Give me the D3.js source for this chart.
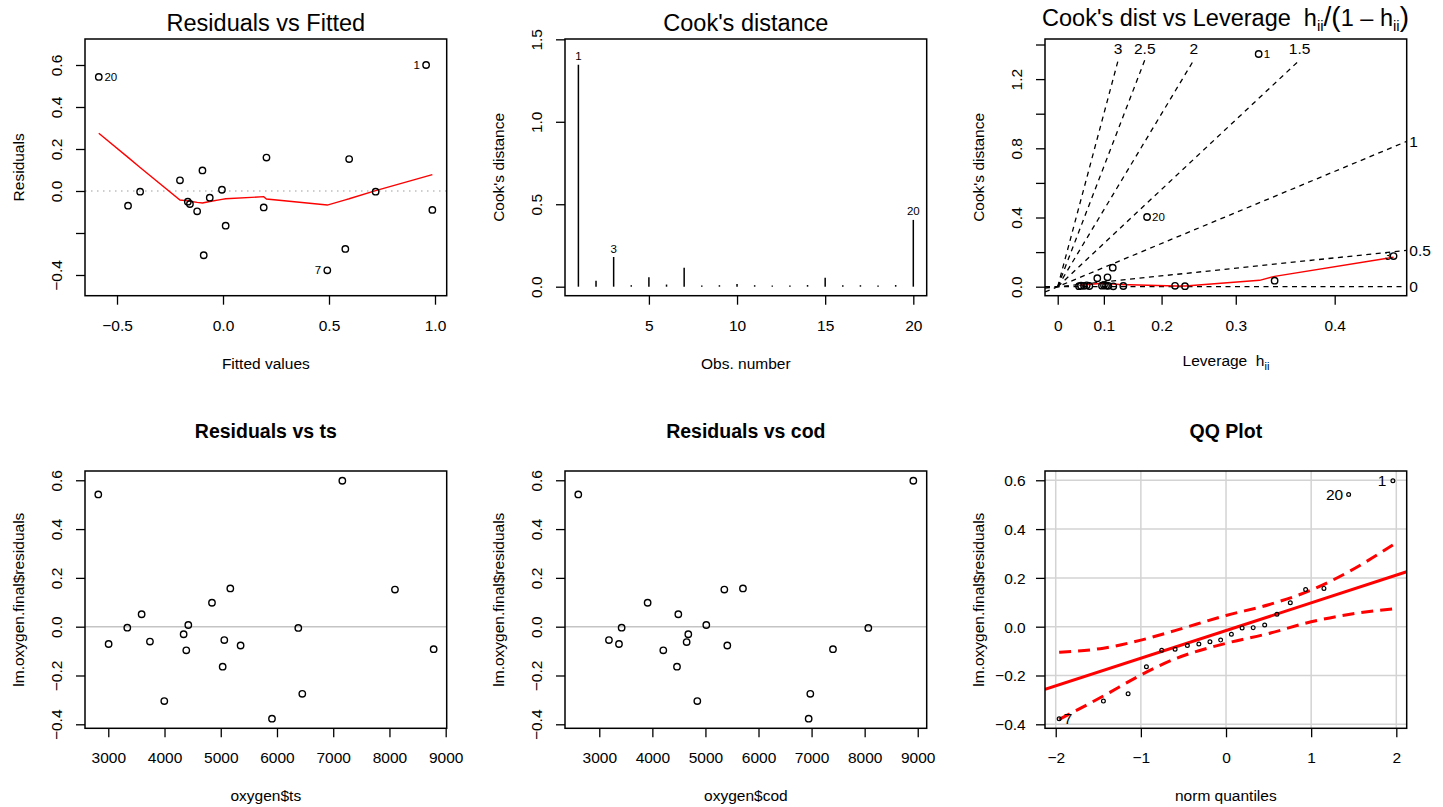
<!DOCTYPE html>
<html><head><meta charset="utf-8">
<script src="https://cdn.jsdelivr.net/npm/d3@7"></script>
<style>
body{margin:0;background:#fff;}
svg text{font-family:"Liberation Sans",Arial,Helvetica,sans-serif;fill:#000;}
</style></head><body>
<script>
// ---------------- DATA ----------------
// Panel 1: Residuals vs Fitted
const p1Fitted = [-0.586,-0.448,-0.391,-0.203,-0.166,-0.156,-0.122,-0.097,-0.091,-0.0625,-0.005,0.0125,0.192,0.205,0.492,0.577,0.595,0.720,0.958,0.9875];
const p1Resid  = [0.543,-0.070,-0.003,0.051,-0.051,-0.062,-0.097,0.098,-0.306,-0.032,0.006,-0.165,-0.078,0.159,-0.378,-0.276,0.152,-0.003,0.600,-0.090];
const p1Labels = ["20","","","","","","","","","","","","","","7","","","","1",""];
const p1SmoothX = [-0.586,-0.448,-0.391,-0.203,-0.166,-0.156,-0.122,-0.097,-0.0625,-0.005,0.0125,0.192,0.205,0.492,0.577,0.595,0.720,0.9875];
const p1SmoothY = [0.275,0.160,0.112,-0.043,-0.047,-0.049,-0.054,-0.057,-0.050,-0.040,-0.037,-0.027,-0.038,-0.067,-0.042,-0.037,0.002,0.078];
const p1XTicks = [-0.5,0,0.5,1.0];
const p1XTickLabels = ["−0.5","0.0","0.5","1.0"];
const p1YTicks = [-0.4,-0.2,0,0.2,0.4,0.6];
const p1YTickLabels = ["−0.4","","0.0","0.2","0.4","0.6"];

// Panel 2: Cook's distance
const cookObs = [1,2,3,4,5,6,7,8,9,10,11,12,13,14,15,16,17,18,19,20];
const cookVal = [1.346,0.036,0.180,0.009,0.057,0.013,0.115,0.008,0.009,0.016,0.009,0.007,0.007,0.010,0.055,0.009,0.009,0.007,0.010,0.405];
const cookLabels = ["1","","3","","","","","","","","","","","","","","","","","20"];
const p2XTicks = [5,10,15,20];
const p2XTickLabels = ["5","10","15","20"];
const p2YTicks = [0,0.5,1.0,1.5];
const p2YTickLabels = ["0.0","0.5","1.0","1.5"];

// Panel 3: Cook's dist vs Leverage
const levH    = [0.326,0.343,0.447,0.087,0.117,0.107,0.177,0.0488,0.0531,0.0595,0.0652,0.0707,0.0963,0.1002,0.1041,0.1086,0.118,0.1364,0.2202,0.2345];
const levCook = [1.345,0.035,0.177,0.049,0.110,0.054,0.403,0.003,0.006,0.005,0.008,0.004,0.006,0.009,0.006,0.005,0.002,0.004,0.005,0.003];
const levLabels = ["1","","3","","","","20","","","","","","","","","","","","",""];
const levSmoothH = [0.049,0.099,0.130,0.222,0.235,0.327,0.343,0.447];
const levSmoothC = [0.008,0.020,0.013,0.004,0.004,0.037,0.060,0.170];
const contourLevels = [0,0.5,1,1.5,2,2.5,3];
const p3XTicks = [0,0.1,0.2,0.3,0.4];
const p3XTickLabels = ["0","0.1","0.2","0.3","0.4"];
const p3YTicks = [0,0.2,0.4,0.6,0.8,1.0,1.2,1.4];
const p3YTickLabels = ["0.0","","0.4","","0.8","","1.2",""];

// Panel 4: Residuals vs ts
const tsVals  = [2822,3006,3338,3593,3741,3996,4340,4387,4423,4844,5034,5063,5170,5353,5911,6379,6450,7162,8098,8786];
const tsResid = [0.542,-0.071,-0.004,0.051,-0.061,-0.305,-0.031,-0.097,0.007,0.098,-0.164,-0.055,0.157,-0.077,-0.377,-0.005,-0.275,0.598,0.152,-0.092];
// Panel 5: Residuals vs cod
const codVals  = [2604,3182,3371,3421,3911,4206,4464,4489,4646,4677,4847,5016,5356,5412,5707,6945,6976,7403,8069,8917];
const codResid = [0.542,-0.055,-0.071,-0.004,0.098,-0.097,-0.164,0.051,-0.063,-0.031,-0.305,0.007,0.152,-0.077,0.157,-0.377,-0.275,-0.092,-0.005,0.598];
const resXTicks = [3000,4000,5000,6000,7000,8000,9000];
const resXTickLabels = ["3000","4000","5000","6000","7000","8000","9000"];
const resYTicks = [-0.4,-0.2,0,0.2,0.4,0.6];
const resYTickLabels = ["−0.4","−0.2","0.0","0.2","0.4","0.6"];

// Panel 6: QQ plot
const qqTheo  = [-1.960,-1.440,-1.150,-0.935,-0.755,-0.598,-0.454,-0.319,-0.189,-0.063,0.063,0.189,0.319,0.454,0.598,0.755,0.935,1.150,1.440,1.960];
const qqResid = [-0.377,-0.305,-0.275,-0.164,-0.097,-0.092,-0.077,-0.071,-0.062,-0.055,-0.031,-0.005,-0.004,0.007,0.051,0.098,0.152,0.157,0.542,0.598];
const qqLabels = ["7","","","","","","","","","","","","","","","","","","20","1"];
const qqLineX = [-2.126,2.122];
const qqLineY = [-0.257,0.225];
const envX     = [-1.96,-1.44,-1.0,-0.6,0,0.5,1.0,1.44,1.96];
const envUpper = [-0.105,-0.088,-0.055,-0.016,0.046,0.090,0.150,0.225,0.335];
const envLower = [-0.380,-0.284,-0.198,-0.132,-0.068,-0.028,0.020,0.050,0.073];
const qqXTicks = [-2,-1,0,1,2];
const qqXTickLabels = ["−2","−1","0","1","2"];

// ---------------- DRAWING ----------------
const FS = 15.5;
const svg = d3.select("body").append("svg").attr("width",1443).attr("height",807);
let clipN = 0;
function panel(box, xd, yd) {
  const x = d3.scaleLinear().domain(xd).range([box.l, box.r]);
  const y = d3.scaleLinear().domain(yd).range([box.b, box.t]);
  const g = svg.append("g");
  const id = "clip" + (clipN++);
  svg.append("clipPath").attr("id", id).append("rect")
    .attr("x", box.l).attr("y", box.t).attr("width", box.r - box.l).attr("height", box.b - box.t);
  const inner = g.append("g").attr("clip-path", `url(#${id})`);
  return {x, y, g, inner, box};
}
function drawBox(P) {
  P.g.append("rect").attr("x", P.box.l).attr("y", P.box.t)
    .attr("width", P.box.r - P.box.l).attr("height", P.box.b - P.box.t)
    .attr("fill", "none").attr("stroke", "#000").attr("stroke-width", 1.5);
}
function xAxis(P, scale, ticks, labels, dy) {
  const a = P.g.append("g").attr("transform", `translate(0,${P.box.b})`)
    .call(d3.axisBottom(scale).tickValues(ticks).tickSize(9).tickFormat((d, i) => labels[i]));
  a.attr("font-size", null).attr("font-family", null);
  a.select(".domain").remove();
  a.selectAll("line").attr("stroke", "#000").attr("stroke-width", 1.3);
  a.selectAll("text").attr("y", dy).attr("dy", null).attr("dominant-baseline", "central")
    .attr("font-size", FS).attr("fill", "#000");
}
function yAxis(P, ticks, labels, rotated) {
  const a = P.g.append("g").attr("transform", `translate(${P.box.l},0)`)
    .call(d3.axisLeft(P.y).tickValues(ticks).tickSize(9).tickFormat((d, i) => labels[i]));
  a.attr("font-size", null).attr("font-family", null);
  a.select(".domain").remove();
  a.selectAll("line").attr("stroke", "#000").attr("stroke-width", 1.3);
  const t = a.selectAll("text").attr("dy", null).attr("font-size", FS).attr("fill", "#000")
    .attr("dominant-baseline", "central");
  if (rotated) t.attr("x", 0).attr("y", -28.3).attr("transform", "rotate(-90)").attr("text-anchor", "middle");
  else t.attr("x", -19.3).attr("text-anchor", "end");
}
function titles(P, main, mainY, mainSize, bold, xlab, xlabY, ylab, ylabX) {
  const cx = (P.box.l + P.box.r) / 2, cy = (P.box.t + P.box.b) / 2;
  if (main) P.g.append("text").attr("x", cx).attr("y", mainY).attr("text-anchor", "middle")
    .attr("font-size", mainSize).attr("font-weight", bold ? "bold" : "normal").text(main);
  if (xlab) P.g.append("text").attr("x", cx).attr("y", xlabY).attr("text-anchor", "middle")
    .attr("dominant-baseline", "central").attr("font-size", FS).text(xlab);
  if (ylab) P.g.append("text").attr("transform", `translate(${ylabX},${cy}) rotate(-90)`)
    .attr("text-anchor", "middle").attr("dominant-baseline", "central").attr("font-size", FS).text(ylab);
}
function circles(P, xs, ys, r, sw) {
  P.g.append("g").selectAll("circle").data(xs).join("circle")
    .attr("cx", d => P.x(d)).attr("cy", (d, i) => P.y(ys[i])).attr("r", r)
    .attr("fill", "none").attr("stroke", "#000").attr("stroke-width", sw);
}

// ===== Panel 1 =====
{
  const P = panel({l:85, r:446.7, t:39, b:295.7}, [-0.651, 1.0552], [-0.4986, 0.7238]);
  P.inner.append("line").attr("x1", P.box.l).attr("x2", P.box.r).attr("y1", P.y(0)).attr("y2", P.y(0))
    .attr("stroke", "#bebebe").attr("stroke-width", 1.3).attr("stroke-dasharray", "1.5,4.5");
  const line = d3.line().x(d => P.x(d[0])).y(d => P.y(d[1]));
  P.inner.append("path").attr("d", line(p1SmoothX.map((v, i) => [v, p1SmoothY[i]])))
    .attr("fill", "none").attr("stroke", "#ff0000").attr("stroke-width", 1.4);
  circles(P, p1Fitted, p1Resid, 3.2, 1.4);
  p1Labels.forEach((lab, i) => {
    if (!lab) return;
    const right = lab === "20";
    P.g.append("text").attr("x", P.x(p1Fitted[i]) + (right ? 5.6 : -6.2)).attr("y", P.y(p1Resid[i]))
      .attr("text-anchor", right ? "start" : "end").attr("dominant-baseline", "central")
      .attr("font-size", 11.5).text(lab);
  });
  drawBox(P);
  xAxis(P, P.x, p1XTicks, p1XTickLabels, 30);
  yAxis(P, p1YTicks, p1YTickLabels, true);
  titles(P, "Residuals vs Fitted", 30.5, 23.5, false, "Fitted values", 363, "Residuals", 18.5);
}

// ===== Panel 2 =====
{
  const P = panel({l:565, r:926.7, t:39, b:295.7}, [0.24, 20.76], [-0.0546, 1.502]);
  P.g.append("g").selectAll("line").data(cookObs).join("line")
    .attr("x1", d => P.x(d)).attr("x2", d => P.x(d))
    .attr("y1", P.y(0)).attr("y2", (d, i) => P.y(cookVal[i]))
    .attr("stroke", "#000").attr("stroke-width", 1.5);
  cookLabels.forEach((lab, i) => {
    if (!lab) return;
    P.g.append("text").attr("x", P.x(cookObs[i])).attr("y", P.y(cookVal[i]) - 8.5)
      .attr("text-anchor", "middle").attr("dominant-baseline", "central").attr("font-size", 11.5).text(lab);
  });
  drawBox(P);
  xAxis(P, P.x, p2XTicks, p2XTickLabels, 30);
  yAxis(P, p2YTicks, p2YTickLabels, true);
  titles(P, "Cook's distance", 30.5, 23.5, false, "Obs. number", 363, "Cook's distance", 498.5);
}

// ===== Panel 3 =====
{
  const P = panel({l:1045, r:1406.7, t:39, b:295.7}, [-0.0306, 0.840], [-0.052, 1.4318]);
  const gOf = h => h / (1 - h); // leverage axis transform h/(1-h)
  const gMin = P.x.domain()[0], gMax = P.x.domain()[1], yMax = P.y.domain()[1];
  const yEnd = 1.31, yLab = 1.375;
  contourLevels.forEach(b => {
    const s = b * b;
    if (s * gMax < yMax) {
      P.inner.append("line").attr("x1", P.x(gMin)).attr("y1", P.y(s * gMin))
        .attr("x2", P.x(gMax)).attr("y2", P.y(s * gMax))
        .attr("stroke", "#000").attr("stroke-width", 1.3).attr("stroke-dasharray", "5,4.5");
      P.g.append("text").attr("x", P.box.r + 2.6).attr("y", P.y(s * gMax))
        .attr("dominant-baseline", "central").attr("font-size", FS).text(String(b));
    } else {
      const xe = yEnd / s;
      P.inner.append("line").attr("x1", P.x(0)).attr("y1", P.y(0))
        .attr("x2", P.x(xe)).attr("y2", P.y(yEnd))
        .attr("stroke", "#000").attr("stroke-width", 1.3).attr("stroke-dasharray", "5,4.5");
      P.g.append("text").attr("x", P.x(xe)).attr("y", P.y(yLab)).attr("text-anchor", "middle")
        .attr("dominant-baseline", "central").attr("font-size", FS).text(String(b));
    }
  });
  const line = d3.line().x(d => P.x(gOf(d[0]))).y(d => P.y(d[1]));
  P.inner.append("path").attr("d", line(levSmoothH.map((v, i) => [v, levSmoothC[i]])))
    .attr("fill", "none").attr("stroke", "#ff0000").attr("stroke-width", 1.4);
  P.g.append("g").selectAll("circle").data(levH).join("circle")
    .attr("cx", d => P.x(gOf(d))).attr("cy", (d, i) => P.y(levCook[i])).attr("r", 3.2)
    .attr("fill", "none").attr("stroke", "#000").attr("stroke-width", 1.4);
  levLabels.forEach((lab, i) => {
    if (!lab) return;
    const left = lab === "3";
    P.g.append("text").attr("x", P.x(gOf(levH[i])) + (left ? -2.5 : 5)).attr("y", P.y(levCook[i]))
      .attr("text-anchor", left ? "end" : "start").attr("dominant-baseline", "central")
      .attr("font-size", 11.5).text(lab);
  });
  drawBox(P);
  xAxis(P, P.x, p3XTicks.map(gOf), p3XTickLabels, 30);
  yAxis(P, p3YTicks, p3YTickLabels, true);
  titles(P, null, 0, 0, false, null, 0, "Cook's distance", 978.5);
  // title with subscripts
  const t = P.g.append("text").attr("x", 1225.5).attr("y", 25.5).attr("text-anchor", "middle")
    .attr("font-size", 23.5).style("white-space", "pre");
  t.append("tspan").text("Cook's dist vs Leverage  h");
  t.append("tspan").attr("font-size", 15).attr("dy", 5).text("ii");
  t.append("tspan").attr("font-size", 28).attr("dy", -5).text("/(");
  t.append("tspan").text("1 – h");
  t.append("tspan").attr("font-size", 15).attr("dy", 5).text("ii");
  t.append("tspan").attr("font-size", 28).attr("dy", -5).text(")");
  const xl = P.g.append("text").attr("x", 1226).attr("y", 366).attr("text-anchor", "middle")
    .attr("font-size", FS).style("white-space", "pre");
  xl.append("tspan").text("Leverage  h");
  xl.append("tspan").attr("font-size", 11).attr("dy", 4).text("ii");
}

// ===== Panel 4 =====
function residPanel(offX, xd, xs, ys, title, xlab) {
  const P = panel({l:85 + offX, r:446.7 + offX, t:471, b:728.3}, xd, [-0.4164, 0.638]);
  P.inner.append("line").attr("x1", P.box.l).attr("x2", P.box.r).attr("y1", P.y(0)).attr("y2", P.y(0))
    .attr("stroke", "#c4c4c4").attr("stroke-width", 1.6);
  circles(P, xs, ys, 3.2, 1.4);
  drawBox(P);
  xAxis(P, P.x, resXTicks, resXTickLabels, 29.4);
  yAxis(P, resYTicks, resYTickLabels, true);
  titles(P, title, 438.3, 19.5, true, xlab, 795.7, "lm.oxygen.final$residuals", 18.5 + offX);
}
residPanel(0, [2586, 9018], tsVals, tsResid, "Residuals vs ts", "oxygen$ts");
residPanel(480, [2354, 9169], codVals, codResid, "Residuals vs cod", "oxygen$cod");

// ===== Panel 6 =====
{
  const P = panel({l:1045, r:1406.7, t:471, b:728.3}, [-2.126, 2.122], [-0.4164, 0.638]);
  qqXTicks.forEach(v => P.inner.append("line").attr("x1", P.x(v)).attr("x2", P.x(v))
    .attr("y1", P.box.t).attr("y2", P.box.b).attr("stroke", "#d3d3d3").attr("stroke-width", 1.5));
  resYTicks.forEach(v => P.inner.append("line").attr("y1", P.y(v)).attr("y2", P.y(v))
    .attr("x1", P.box.l).attr("x2", P.box.r).attr("stroke", "#d3d3d3").attr("stroke-width", 1.5));
  const line = d3.line().x(d => P.x(d[0])).y(d => P.y(d[1]));
  P.inner.append("path").attr("d", line(qqLineX.map((v, i) => [v, qqLineY[i]])))
    .attr("fill", "none").attr("stroke", "#ff0000").attr("stroke-width", 3);
  const curve = d3.line().x(d => P.x(d[0])).y(d => P.y(d[1])).curve(d3.curveMonotoneX);
  [envUpper, envLower].forEach(arr => {
    P.inner.append("path").attr("d", curve(envX.map((v, i) => [v, arr[i]])))
      .attr("fill", "none").attr("stroke", "#ff0000").attr("stroke-width", 3)
      .attr("stroke-dasharray", "12,7");
  });
  circles(P, qqTheo, qqResid, 1.9, 1.2);
  qqLabels.forEach((lab, i) => {
    if (!lab) return;
    const right = lab === "7";
    P.g.append("text").attr("x", P.x(qqTheo[i]) + (right ? 4.6 : (lab === "1" ? -6.5 : -5.4)))
      .attr("y", P.y(qqResid[i])).attr("text-anchor", right ? "start" : "end")
      .attr("dominant-baseline", "central").attr("font-size", FS).text(lab);
  });
  drawBox(P);
  xAxis(P, P.x, qqXTicks, qqXTickLabels, 29.4);
  yAxis(P, resYTicks, resYTickLabels, false);
  titles(P, "QQ Plot", 438.3, 19.5, true, "norm quantiles", 795.7, "lm.oxygen.final$residuals", 978.5);
}
</script>
</body></html>
